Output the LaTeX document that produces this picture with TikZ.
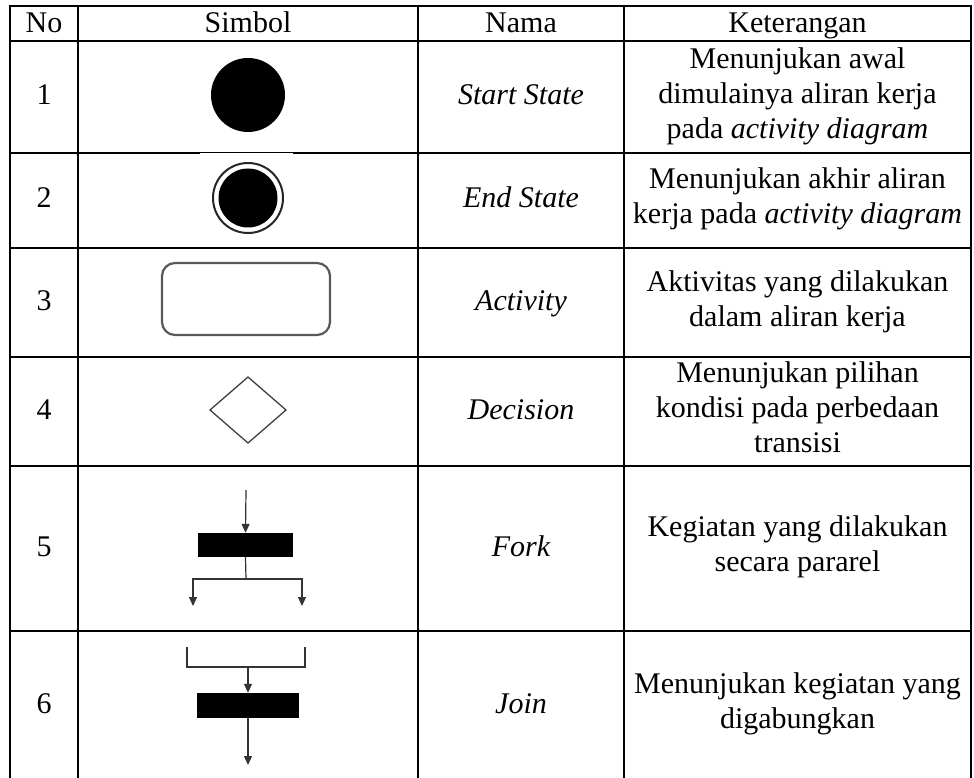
\documentclass[tikz,border=0pt]{standalone}
\usepackage{fontspec}
\setmainfont{Liberation Serif}
\usetikzlibrary{arrows.meta}
\begin{document}
\begin{tikzpicture}[x=1pt,y=-1pt,
  grid/.style={line width=1.8pt,black},
  cell/.style={font=\fontsize{30}{35}\selectfont, align=center, inner sep=0pt,
    execute at begin node=\strut, execute at end node=\strut},
  namecell/.style={cell, font=\fontsize{30}{35}\selectfont\itshape},
  flow/.style={line width=1.2pt, draw=black!80},
  tip/.style={-{Triangle[length=9pt,width=8pt]}},
  bar/.style={fill=black, draw=none, inner sep=0pt},
]
\useasboundingbox (0,0) rectangle (974,778);
\fill[white] (0,0) rectangle (974,778);

% table rules
\begin{scope}
\clip (0,0) rectangle (974,778);
\foreach \yy in {6,41,153,248,357,466,631}
  \draw[grid] (9.1,\yy) -- (971.9,\yy);
\foreach \xx in {10,78,418,624,971}
  \draw[grid] (\xx,5.1) -- (\xx,790);
\end{scope}
% lighter stretch of the rule above the end state symbol
\draw[white,line width=0.7pt] (200,153.6) -- (293,153.6);

% header
\node[cell] (hno)  at (44,26)    {No};
\node[cell] (hsym) at (248,26)   {Simbol};
\node[cell] (hnam) at (521,26)   {Nama};
\node[cell] (hket) at (797.5,26) {Keterangan};

% numbers
\node[cell] (n1) at (44,98)    {1};
\node[cell] (n2) at (44,201)   {2};
\node[cell] (n3) at (44,303)   {3};
\node[cell] (n4) at (44,412)   {4};
\node[cell] (n5) at (44,549)   {5};
\node[cell] (n6) at (44,706)   {6};

% names
\node[namecell] (m1) at (521,98)  {Start State};
\node[namecell] (m2) at (521,201) {End State};
\node[namecell] (m3) at (521,303) {Activity};
\node[namecell] (m4) at (521,412) {Decision};
\node[namecell] (m5) at (521,549) {Fork};
\node[namecell] (m6) at (521,706) {Join};

% descriptions
\node[cell] (k1) at (797.5,98)  {Menunjukan awal\\dimulainya aliran kerja\\pada \textit{activity diagram}};
\node[cell] (k2) at (797.5,201) {Menunjukan akhir aliran\\kerja pada \textit{activity diagram}};
\node[cell] (k3) at (797.5,304) {Aktivitas yang dilakukan\\dalam aliran kerja};
\node[cell] (k4) at (797.5,412) {Menunjukan pilihan\\kondisi pada perbedaan\\transisi};
\node[cell] (k5) at (797.5,549) {Kegiatan yang dilakukan\\secara pararel};
\node[cell] (k6) at (797.5,706) {Menunjukan kegiatan yang\\digabungkan};

% start state
\fill[black] (248,95) circle[radius=37] coordinate (startdot);
% end state
\draw[black!85,line width=2pt] (248,198) circle[radius=35];
\fill[black] (248,198) circle[radius=29.5] coordinate (enddot);
% activity
\draw[black!65,line width=2.2pt,rounded corners=13pt] (162,263) rectangle (330,335);
% decision
\draw[black!75,line width=1.3pt] (210,410) -- (248,377) -- (286,410) -- (248,443) -- cycle;

% fork
\coordinate (forkin) at (246,490);
\node[bar,minimum width=95pt,minimum height=24pt] (forkbar) at (245.5,545) {};
\coordinate (forksplit) at (246,579);
\coordinate (forkL) at (193,606);
\coordinate (forkR) at (302,606);
\draw[flow,tip] (forkin) -- (forkbar.north);
\draw[flow] (forkbar.south) -- (forksplit);
\draw[flow,tip] (forksplit) -| (forkL);
\draw[flow,tip] (forksplit) -| (forkR);

% join
\coordinate (joinL) at (187,647);
\coordinate (joinR) at (305,647);
\coordinate (joinmid) at (248,667);
\node[bar,minimum width=102pt,minimum height=25pt] (joinbar) at (248,705.5) {};
\coordinate (joinout) at (248,765);
\draw[flow] (joinL) |- (joinmid) -| (joinR);
\draw[flow,tip] (joinmid) -- (joinbar.north);
\draw[flow,tip] (joinbar.south) -- (joinout);
\end{tikzpicture}
\end{document}
